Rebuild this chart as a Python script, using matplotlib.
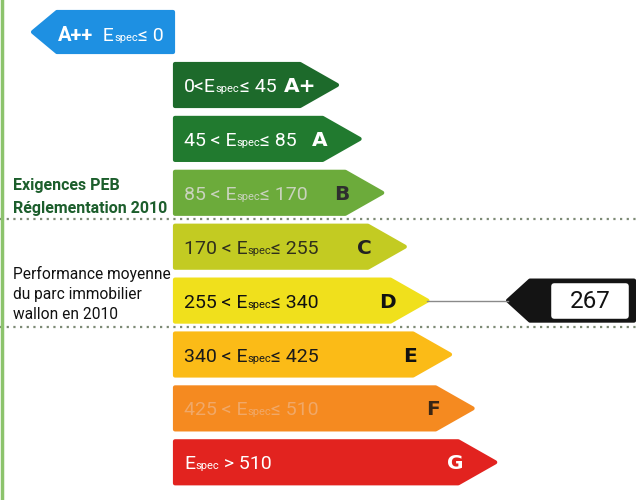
import matplotlib
matplotlib.use("Agg")
import matplotlib.pyplot as plt
from matplotlib.patches import Polygon

# classes énergétiques (Espec en kWh/m².an)
classes = ["A+", "A", "B", "C", "D", "E", "F", "G"]
lower = [0, 45, 85, 170, 255, 340, 425, 510]
upper = [45, 85, 170, 255, 340, 425, 510, None]
colors = ["#1d6a2b", "#217a2f", "#6cab3b", "#c3cb22", "#f0e01c", "#fbbb17", "#f58a20", "#e2231f"]
num_colors = ["white", "white", "#c9d3bd", "#2f2f1c", "#111111", "#1a1a1a", "#f0a868", "white"]
letter_colors = ["white", "white", "#2e2e2e", "#222222", "#111111", "#111111", "#3a2614", "white"]
app_label = "A++"
app_color = "#1e90e2"
valeur = 267
txt_exig = ["Exigences PEB", "Réglementation 2010"]
txt_perf = ["Performance moyenne", "du parc immobilier", "wallon en 2010"]

FONT = dict(family="Roboto")
BIG = 14
SMALL = 8

fig = plt.figure(figsize=(6.36, 5.0), dpi=100)
ax = fig.add_axes([0, 0, 1, 1])
ax.set_xlim(0, 636)
ax.set_ylim(500, 0)
ax.axis("off")
fig.canvas.draw()
renderer = fig.canvas.get_renderer()


def pieces(x, y, parts, color):
    # texte en morceaux (E + spec en petit) sur la meme ligne de base
    for s, fs, w in parts:
        t = ax.text(x, y, s, fontsize=fs, color=color, fontweight=w, va="baseline", ha="left", **FONT)
        bb = t.get_window_extent(renderer)
        x += bb.width
    return x


# fleche A++ (vers la gauche)
ax.add_patch(Polygon([(33, 32), (57, 12), (173, 12), (173, 52), (57, 52)], closed=True,
                     fc=app_color, ec=app_color, lw=3, joinstyle="round"))
pieces(58, 41, [(app_label, 14.5, "bold"), ("  E", BIG, "normal"), ("spec", SMALL, "normal"),
                ("\u2264 0", BIG, "normal")], "white")

h = 42
for i, c in enumerate(classes):
    yc = 85 + i * 53.9
    tip = 337 + i * 22.6
    x0 = 175
    xb = tip - 37
    ax.add_patch(Polygon([(x0, yc - h / 2), (xb, yc - h / 2), (tip, yc), (xb, yc + h / 2), (x0, yc + h / 2)],
                         closed=True, fc=colors[i], ec=colors[i], lw=3, joinstyle="round"))
    if upper[i] is None:
        parts = [("E", BIG, "normal"), ("spec", SMALL, "normal"), (" > %d" % lower[i], BIG, "normal")]
    elif i == 0:
        parts = [("%d<E" % lower[i], BIG, "normal"), ("spec", SMALL, "normal"), ("\u2264 %d" % upper[i], BIG, "normal")]
    else:
        parts = [("%d < E" % lower[i], BIG, "normal"), ("spec", SMALL, "normal"), ("\u2264 %d" % upper[i], BIG, "normal")]
    pieces(184, yc + 7, parts, num_colors[i])
    ax.text(tip - (37 if i == 0 else 40), yc + 7, c, fontsize=14.5, fontweight="bold", color=letter_colors[i],
            ha="center", va="baseline", family="DejaVu Sans")

# indicateur de la valeur moyenne
k = [i for i in range(len(classes)) if lower[i] < valeur and (upper[i] is None or valeur <= upper[i])][0]
yk = 85 + k * 53.9
tipk = 337 + k * 22.6
ax.plot([tipk, 508], [yk, yk], color="#8a8a8a", lw=1)
ax.add_patch(Polygon([(508, yk), (530, yk - 20), (634, yk - 20), (634, yk + 20), (530, yk + 20)], closed=True,
                     fc="#141414", ec="#141414", lw=3, joinstyle="round"))
ax.add_patch(Polygon([(554, yk - 15), (626, yk - 15), (626, yk + 15), (554, yk + 15)], closed=True,
                     fc="white", ec="white", lw=4, joinstyle="round"))
ax.text(590, yk + 1, str(valeur), fontsize=17.5, color="#111111", ha="center", va="center", family="Roboto")

# lignes pointillees
for yl in [219, 327]:
    ax.plot([0, 636], [yl, yl], color="#7d8a75", lw=1.6, linestyle=(0, (1, 2)))

# bordure verte a gauche
ax.plot([2, 2], [0, 500], color="#8cc36c", lw=2.5)

for j, s in enumerate(txt_exig):
    ax.text(13, 190 + j * 23, s, fontsize=11.5, fontweight="bold", color="#1c5e2c", va="baseline", **FONT)
for j, s in enumerate(txt_perf):
    ax.text(13, 279 + j * 20, s, fontsize=11.2, color="#111111", va="baseline", **FONT)

fig.savefig("out.png", dpi=100)
